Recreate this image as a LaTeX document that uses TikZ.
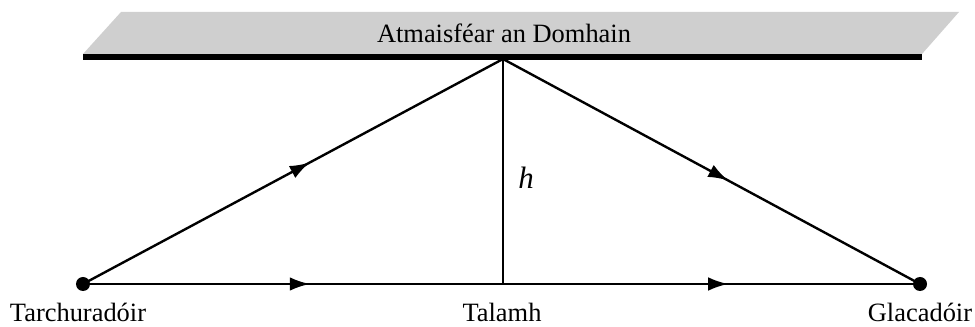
\documentclass[tikz,border=0pt]{standalone}
\usepackage{fontspec}
\setmainfont{Liberation Serif}
\usetikzlibrary{
	arrows.meta,
	decorations.markings,
	positioning
}

\tikzset{
	ray/.style={line width=1.7pt, postaction={decorate},
		decoration={markings, mark=at position 0.54 with {\arrow{Latex[length=5mm,width=3.4mm]}}}},
	station/.style={circle, fill=black, inner sep=0pt, minimum size=3.5mm},
	lbl/.style={font=\fontsize{18.8}{22}\selectfont, inner sep=0pt, anchor=base}
}

\begin{document}
\begin{tikzpicture}[x=0.025cm, y=-0.025cm]
		\useasboundingbox (0,0) rectangle (975,327);
		% atmosphere layer
		\fill[gray!38] (83,54) -- (121,12) -- (959,12) -- (922,54) -- cycle;
		\draw[line width=4.3pt] (83,57) -- (922,57);
		\node[lbl] (atmos) at (504,43) {Atmaisféar an Domhain};
		% stations and points
		\node[station] (tx) at (83,284) {};
		\node[station] (rx) at (920,284) {};
		\coordinate (apex) at (503,59);
		\coordinate (gnd) at (503,284);
		% paths
		\draw[ray] (tx.center) -- (apex);
		\draw[ray] (apex) -- (rx.center);
		\draw[ray] (tx.center) -- (gnd);
		\draw[ray] (gnd) -- (rx.center);
		\draw[line width=1.7pt] (apex) -- (gnd);
		% labels
		\node[lbl] (txlbl) at (78,322) {Tarchuradóir};
		\node[lbl] (gndlbl) at (502,322) {Talamh};
		\node[lbl] (rxlbl) at (920,322) {Glacadóir};
		\node[lbl, font=\fontsize{22}{24}\selectfont] (hlbl) at (526,189) {\textit{h}};
	\end{tikzpicture}
\end{document}
